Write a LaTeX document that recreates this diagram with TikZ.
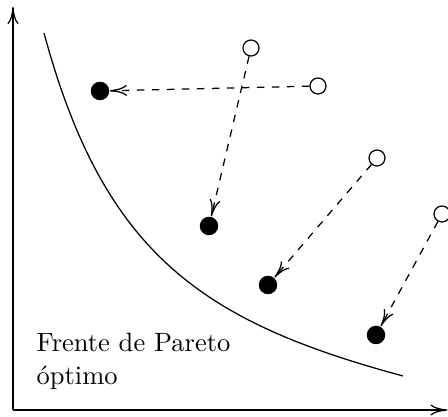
\documentclass[tikz,border=0pt]{standalone}
\usetikzlibrary{arrows.meta}
\begin{document}
\begin{tikzpicture}[x=0.4pt,y=-0.4pt,line width=0.5pt,
  tip/.style={-{Computer Modern Rightarrow[length=6.8pt,width=4.4pt]}},
  opendot/.style={circle,draw,fill=white,inner sep=0pt,minimum size=6.4pt},
  fulldot/.style={circle,fill=black,inner sep=0pt,minimum size=7.4pt},
  move/.style={tip,dashed},
  axis/.style={tip}]
\useasboundingbox (0,0) rectangle (448,417);
\coordinate (o) at (13,410);
\coordinate (ytop) at (13,7);
\coordinate (xend) at (447.5,410);
\draw[axis] (o) -- (ytop);
\draw[axis] (o) -- (xend);
\coordinate (c0) at (44,33);
\coordinate (c3) at (403,376);
\draw (c0) .. controls (104,255) and (203,322) .. (c3);
\node[opendot] (a1) at (251,48) {};
\node[opendot] (a2) at (318,86) {};
\node[opendot] (a3) at (377,158) {};
\node[opendot] (a4) at (442,214) {};
\node[fulldot] (b1) at (100,91) {};
\node[fulldot] (b2) at (209,226) {};
\node[fulldot] (b3) at (268,285) {};
\node[fulldot] (b4) at (376,335) {};
\draw[move] (a2) -- (b1);
\draw[move] (a1) -- (b2);
\draw[move] (a3) -- (b3);
\draw[move] (a4) -- (b4);
\node[anchor=base west,align=left,inner sep=0pt,font=\fontsize{10.6pt}{13.2pt}\selectfont] (lbl) at (36,385) {Frente de Pareto\\óptimo};
\end{tikzpicture}
\end{document}
